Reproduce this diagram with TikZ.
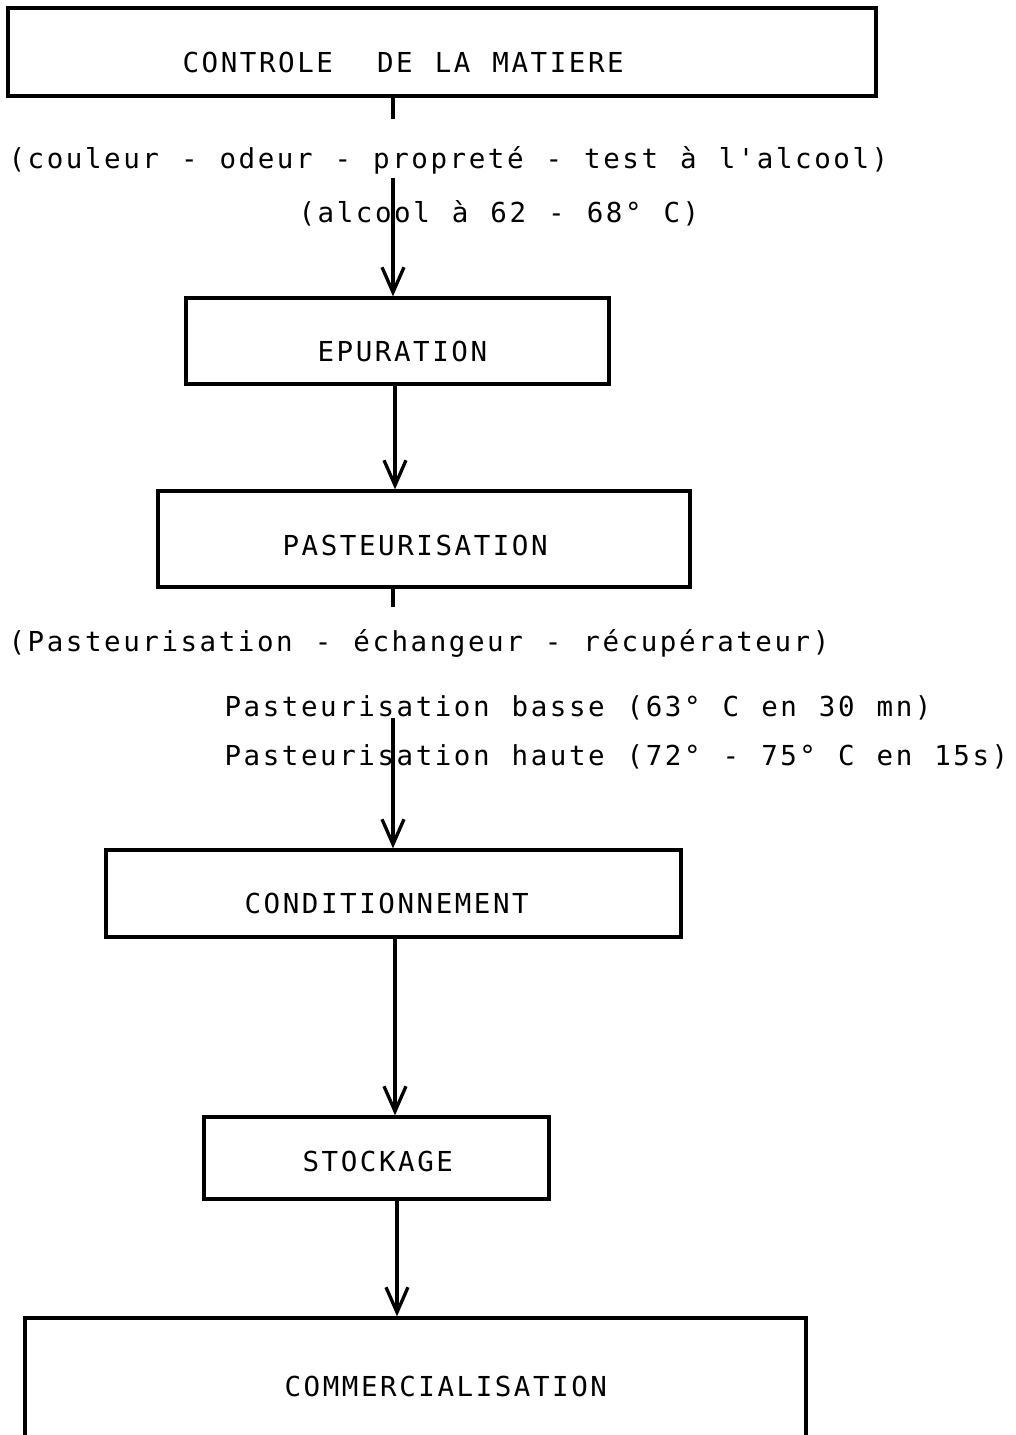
\documentclass[tikz,border=0pt]{standalone}
\usepackage{fontspec}
\setmonofont[LetterSpace=9.3,WordSpace=1.153]{DejaVu Sans Mono}
\usetikzlibrary{arrows.meta}
\begin{document}
\begin{tikzpicture}[x=1pt,y=-1pt,line width=3.3pt,
	boite/.style={draw,rectangle,inner sep=0pt},
	texte/.style={anchor=base west,inner sep=0pt,font=\ttfamily\fontsize{27.5}{33}\selectfont},
	fleche/.style={-{Straight Barb[length=25pt,width=22pt]}}]
	\useasboundingbox (0,0) rectangle (1015,1435);
	\clip (0,0) rectangle (1015,1435);
	% Kaesten
	\node [boite, minimum width=868, minimum height=88] (controle) at (442,52) {};
	\node [boite, minimum width=423, minimum height=86] (epuration) at (397.5,341) {};
	\node [boite, minimum width=532, minimum height=96] (pasteurisation) at (424,539) {};
	\node [boite, minimum width=575, minimum height=87] (conditionnement) at (393.5,893.5) {};
	\node [boite, minimum width=345, minimum height=82] (stockage) at (376.5,1158) {};
	\node [boite, minimum width=781, minimum height=222] (commercialisation) at (415.5,1429) {};
	% Beschriftungen der Kaesten
	\node [texte] (t-controle) at (181,72) {CONTROLE\ \ DE LA MATIERE};
	\node [texte] (t-epuration) at (316,361) {EPURATION};
	\node [texte] (t-pasteurisation) at (281,555) {PASTEURISATION};
	\node [texte] (t-conditionnement) at (243,913) {CONDITIONNEMENT};
	\node [texte] (t-stockage) at (301,1171) {STOCKAGE};
	\node [texte] (t-commercialisation) at (283,1396) {COMMERCIALISATION};
	% Erlaeuterungen
	\node [texte] (controles) at (7,168) {(couleur - odeur - propreté - test à l'alcool)};
	\node [texte] (alcool) at (297,222) {(alcool à 62 - 68° C)};
	\node [texte] (procede) at (7,651) {(Pasteurisation - échangeur - récupérateur)};
	\node [texte] (basse) at (223,716) {Pasteurisation basse (63° C en 30 mn)};
	\node [texte] (haute) at (223,765) {Pasteurisation haute (72° - 75° C en 15s)};
	% Verbindungen
	\coordinate (depart1) at (393,178);
	\coordinate (depart2) at (393,718);
	\draw (controle.south -| depart1) -- ++(0,21);
	\draw [fleche] (depart1) -- (epuration.north -| depart1);
	\draw [fleche] (epuration.south -| 395,0) -- (pasteurisation.north -| 395,0);
	\draw (pasteurisation.south -| depart2) -- ++(0,18);
	\draw [fleche] (depart2) -- (conditionnement.north -| depart2);
	\draw [fleche] (conditionnement.south -| 395,0) -- (stockage.north -| 395,0);
	\draw [fleche] (stockage.south -| 397,0) -- (commercialisation.north -| 397,0);
\end{tikzpicture}
\end{document}
